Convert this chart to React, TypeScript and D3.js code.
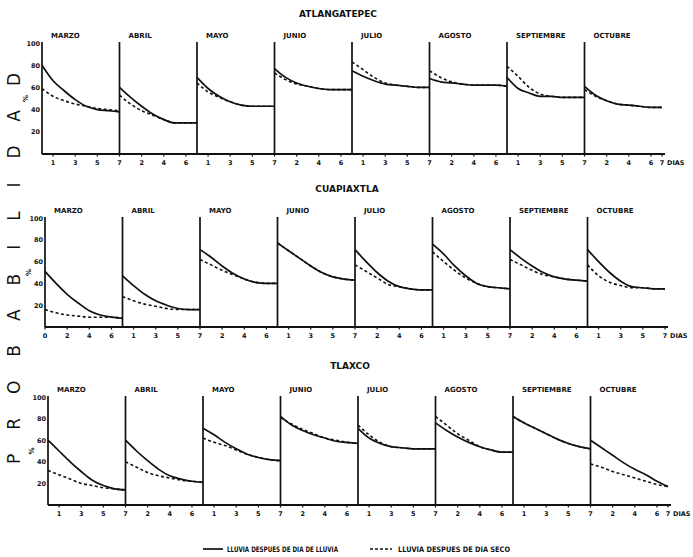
import React from "react";
import * as d3 from "d3";

const months = ["MARZO", "ABRIL", "MAYO", "JUNIO", "JULIO", "AGOSTO", "SEPTIEMBRE", "OCTUBRE"];
const stations = ["ATLANGATEPEC", "CUAPIAXTLA", "TLAXCO"];
const dayIndex = [0, 1, 2, 3, 4, 5, 6, 7];
const yTickValues = [20, 40, 60, 80, 100];
const sideTitle = "PROBABILIDAD";
const legendRain = "LLUVIA DESPUES DE DIA DE LLUVIA";
const legendDry = "LLUVIA DESPUES DE DIA SECO";
const xUnit = "DIAS";

// Probability (%) by day after the event, one array per month
const atlangatepecRain = [
  [80, 66, 57, 49, 43, 40, 39, 38],
  [60, 51, 43, 36, 31, 28, 28, 28],
  [69, 59, 52, 47, 44, 43, 43, 43],
  [77, 69, 64, 61, 59, 58, 58, 58],
  [75, 70, 66, 63, 62, 61, 60, 60],
  [68, 65, 64, 63, 62, 62, 62, 61],
  [69, 59, 55, 52, 52, 51, 51, 51],
  [61, 53, 48, 45, 44, 43, 42, 42],
];
const atlangatepecDry = [
  [59, 52, 48, 45, 43, 41, 40, 39],
  [53, 45, 39, 35, 31, 28, 28, 28],
  [64, 56, 51, 47, 44, 43, 43, 43],
  [73, 67, 63, 61, 59, 58, 58, 58],
  [83, 76, 69, 64, 62, 61, 60, 60],
  [75, 69, 65, 63, 62, 62, 62, 61],
  [79, 70, 60, 54, 52, 51, 51, 51],
  [58, 52, 48, 45, 44, 43, 42, 42],
];
const cuapiaxtlaRain = [
  [51, 40, 30, 22, 15, 11, 9, 8],
  [47, 38, 30, 24, 20, 17, 16, 16],
  [71, 64, 56, 49, 44, 41, 40, 40],
  [77, 70, 63, 56, 50, 46, 44, 43],
  [71, 60, 50, 42, 37, 35, 34, 34],
  [76, 67, 56, 47, 40, 37, 36, 35],
  [71, 63, 56, 50, 46, 44, 43, 42],
  [71, 60, 50, 42, 37, 36, 35, 35],
];
const cuapiaxtlaDry = [
  [16, 13, 11, 10, 9, 9, 9, 8],
  [28, 24, 21, 19, 17, 16, 16, 16],
  [62, 57, 52, 48, 44, 41, 40, 40],
  [77, 70, 63, 56, 50, 46, 44, 43],
  [57, 51, 45, 39, 37, 35, 34, 34],
  [69, 60, 52, 45, 40, 37, 36, 35],
  [62, 57, 52, 48, 46, 44, 43, 42],
  [57, 47, 41, 38, 36, 36, 35, 35],
];
const tlaxcoRain = [
  [60, 50, 40, 31, 23, 18, 15, 14],
  [60, 50, 41, 33, 27, 24, 22, 21],
  [71, 65, 58, 52, 47, 44, 42, 41],
  [82, 74, 69, 65, 62, 59, 58, 57],
  [71, 62, 57, 54, 53, 52, 52, 52],
  [76, 69, 63, 58, 54, 51, 49, 49],
  [82, 76, 71, 66, 61, 57, 54, 52],
  [60, 53, 46, 39, 33, 28, 22, 17],
];
const tlaxcoDry = [
  [32, 28, 24, 20, 18, 16, 15, 14],
  [40, 35, 30, 27, 25, 23, 22, 21],
  [62, 58, 55, 51, 47, 44, 42, 41],
  [81, 75, 70, 66, 62, 60, 58, 57],
  [74, 65, 58, 54, 53, 52, 52, 52],
  [82, 74, 66, 60, 54, 51, 49, 49],
  [82, 76, 71, 66, 61, 57, 54, 52],
  [38, 35, 31, 28, 25, 22, 19, 17],
];

// Day labels printed under each month
const ticksAtlangatepec = [[1, 3, 5, 7], [2, 4, 6], [1, 3, 5, 7], [2, 4, 6], [1, 3, 5, 7], [2, 4, 6], [1, 3, 5, 7], [2, 4, 6, 7]];
const ticksCuapiaxtla = [[0, 2, 4, 6], [1, 3, 5, 7], [2, 4, 6], [1, 3, 5, 7], [2, 4, 6], [1, 3, 5, 7], [2, 4, 6], [1, 3, 5, 7]];
const ticksTlaxco = [[1, 3, 5, 7], [2, 4, 6], [1, 3, 5, 7], [2, 4, 6], [1, 3, 5, 7], [2, 4, 6], [1, 3, 5, 7], [2, 4, 6, 7]];

const rainSeries = [atlangatepecRain, cuapiaxtlaRain, tlaxcoRain];
const drySeries = [atlangatepecDry, cuapiaxtlaDry, tlaxcoDry];
const tickSets = [ticksAtlangatepec, ticksCuapiaxtla, ticksTlaxco];

// layout
const W = 693;
const H = 557;
const rows = [
  { x0: 42, top: 43, base: 154, titleX: 338, titleY: 17 },
  { x0: 45, top: 218, base: 327, titleX: 347, titleY: 192 },
  { x0: 48, top: 397, base: 505, titleX: 350, titleY: 369 },
];
const monthWidth = 77.5;
const font = "'DejaVu Sans', 'Liberation Sans', sans-serif";
const ink = "#111";

function Row({ r }: { r: number }) {
  const L = rows[r];
  const nDays = months.length * 7;
  const x = d3.scaleLinear().domain([0, nDays]).range([L.x0, L.x0 + monthWidth * months.length]);
  const y = d3.scaleLinear().domain([0, 100]).range([L.base, L.top]);
  const line = d3
    .line<number[]>()
    .x((d) => d[0])
    .y((d) => d[1])
    .curve(d3.curveMonotoneX);
  const mk = (vals: number[], m: number) => line(dayIndex.map((d) => [x(m * 7 + d), y(vals[d])])) || "";
  const xEnd = x(nDays);
  const txt = { fontFamily: font, fontWeight: "bold" as const, fill: ink };
  return (
    <g>
      <text x={L.titleX} y={L.titleY} textAnchor="middle" fontSize={9} {...txt}>
        {stations[r]}
      </text>
      {yTickValues.map((v) => (
        <text key={v} x={L.x0 - 2} y={y(v) + 2.5} textAnchor="end" fontSize={6.5} {...txt}>
          {v}
        </text>
      ))}
      <text
        x={L.x0 - 14}
        y={y(50)}
        fontSize={7}
        textAnchor="middle"
        transform={`rotate(-90 ${L.x0 - 14} ${y(50)})`}
        {...txt}
      >
        %
      </text>
      <line x1={L.x0} x2={xEnd + 3} y1={L.base} y2={L.base} stroke={ink} strokeWidth={1.8} />
      {months.map((mName, m) => (
        <g key={mName}>
          <line x1={x(m * 7)} x2={x(m * 7)} y1={L.base} y2={y(100) - 1} stroke={ink} strokeWidth={1.7} />
          <text x={x(m * 7) + 9} y={L.top - 5} fontSize={7} {...txt}>
            {mName}
          </text>
          {tickSets[r][m].map((t) => (
            <g key={t}>
              <line x1={x(m * 7 + t)} x2={x(m * 7 + t)} y1={L.base} y2={L.base + 2.5} stroke={ink} strokeWidth={1.2} />
              <text x={x(m * 7 + t)} y={L.base + 10.5} textAnchor="middle" fontSize={6.5} {...txt}>
                {t}
              </text>
            </g>
          ))}
          <path d={mk(drySeries[r][m], m)} fill="none" stroke={ink} strokeWidth={1.6} strokeDasharray="3,2.5" />
          <path d={mk(rainSeries[r][m], m)} fill="none" stroke={ink} strokeWidth={1.7} />
        </g>
      ))}
      <text x={xEnd + 5} y={L.base + 10.5} fontSize={6.5} {...txt}>
        {xUnit}
      </text>
    </g>
  );
}

export default function App() {
  const lg = { fontFamily: font, fontWeight: "bold" as const, fill: ink };
  return (
    <svg width={W} height={H} viewBox={`0 0 ${W} ${H}`} style={{ position: "absolute", left: 0, top: 0, background: "#fff" }}>
      <rect x={0} y={0} width={W} height={H} fill="#fff" />
      <text
        x={20}
        y={464}
        fontSize={17}
        fontFamily="'DejaVu Sans', sans-serif"
        fill={ink}
        textLength={391}
        lengthAdjust="spacing"
        transform="rotate(-90 20 464)"
      >
        {sideTitle}
      </text>
      {rows.map((_, r) => (
        <Row key={r} r={r} />
      ))}
      <line x1={203} x2={223} y1={549} y2={549} stroke={ink} strokeWidth={1.7} />
      <text x={227} y={552} fontSize={7.5} textLength={111} lengthAdjust="spacingAndGlyphs" {...lg}>
        {legendRain}
      </text>
      <line x1={370} x2={392} y1={549} y2={549} stroke={ink} strokeWidth={1.5} strokeDasharray="3,2" />
      <text x={398} y={552} fontSize={7.5} textLength={112} lengthAdjust="spacingAndGlyphs" {...lg}>
        {legendDry}
      </text>
    </svg>
  );
}
